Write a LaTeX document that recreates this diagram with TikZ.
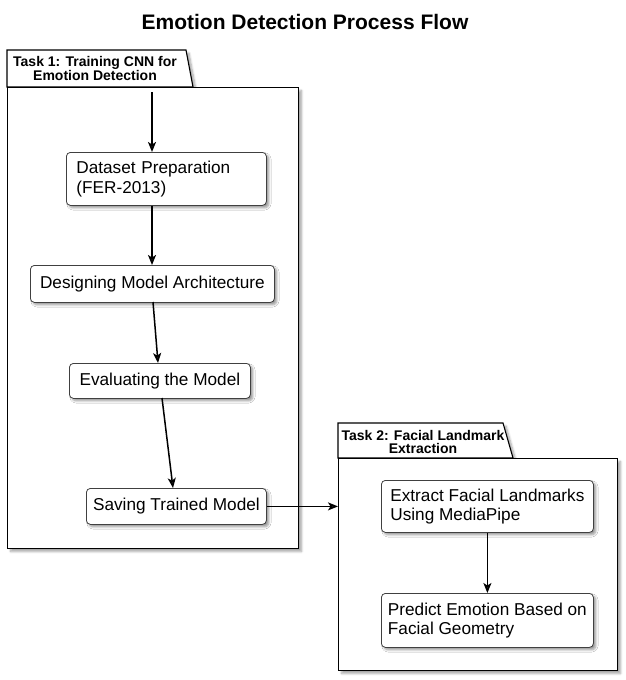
\documentclass[tikz,border=0pt]{standalone}
\usepackage{fontspec}
\setmainfont{Liberation Sans}
\usetikzlibrary{arrows.meta,shadows.blur,positioning}
\begin{document}
\begin{tikzpicture}[x=1pt,y=-1pt,
  box/.style={draw=black!75, line width=0.8pt, rounded corners=4pt, fill=white,
    font=\fontsize{17.2}{19.5}\selectfont, inner sep=0pt,
    blur shadow={shadow xshift=2.5pt, shadow yshift=-2.5pt, shadow blur steps=6, shadow opacity=40}},
  frame/.style={draw=black, line width=1.1pt, fill=white, inner sep=0pt,
    blur shadow={shadow xshift=3pt, shadow yshift=-3pt, shadow blur steps=6, shadow opacity=35}},
  tabtext/.style={font=\fontsize{14}{13.5}\selectfont\bfseries, align=center, inner sep=0pt},
  arr/.style={line width=1.5pt, -{Stealth[length=10pt,width=8pt,inset=2.5pt]}},
]
\useasboundingbox (0,0) rectangle (626,680);
\node[font=\fontsize{21}{24}\selectfont\bfseries] (title) at (305,22) {Emotion Detection Process Flow};

% Frame 1
\filldraw[frame] (7,87) -- (7,50) -- (186,50) -- (193,87) -- cycle;
\node[frame, minimum width=291pt, minimum height=461pt, anchor=north west] (f1) at (7,87) {};
\node[tabtext] (t1) at (95,68.5) {Task 1: Training CNN for\\Emotion Detection};

% Frame 2
\filldraw[frame] (338,458) -- (338,423) -- (503,423) -- (513,458) -- cycle;
\node[frame, minimum width=279pt, minimum height=212pt, anchor=north west] (f2) at (338,458) {};
\node[tabtext] (t2) at (423,442) {Task 2: Facial Landmark\\Extraction};

% Nodes
\node[box, minimum width=200pt, minimum height=53pt, text width=180pt, align=left, anchor=north west] (n1) at (66,152) {Dataset Preparation\\(FER-2013)};
\node[box, minimum width=244pt, minimum height=37pt, align=center, anchor=north west] (n2) at (30,265) {Designing Model Architecture};
\node[box, minimum width=181pt, minimum height=35pt, align=center, anchor=north west] (n3) at (69,363) {Evaluating the Model};
\node[box, minimum width=180pt, minimum height=36pt, align=center, anchor=north west] (n4) at (86,488) {Saving Trained Model};
\node[box, minimum width=212pt, minimum height=52pt, align=left, anchor=north west] (n5) at (381,480) {Extract Facial Landmarks\\Using MediaPipe};
\node[box, minimum width=212pt, minimum height=54pt, align=left, anchor=north west] (n6) at (381,593) {Predict Emotion Based on\\Facial Geometry};

\coordinate (s) at (152,92);
\coordinate (a2) at (153,302);
\coordinate (b2) at (158,363);
\coordinate (a3) at (162,398);
\coordinate (b3) at (173,488);

\draw[arr] (s) -- (s |- n1.north);
\draw[arr] (n1.south -| s) -- (n2.north -| s);
\draw[arr] (a2) -- (b2);
\draw[arr] (a3) -- (b3);
\draw[arr] (n4.east) -- (f2.west |- n4.east);
\draw[arr] (n5.south) -- (n6.north);
\end{tikzpicture}
\end{document}
